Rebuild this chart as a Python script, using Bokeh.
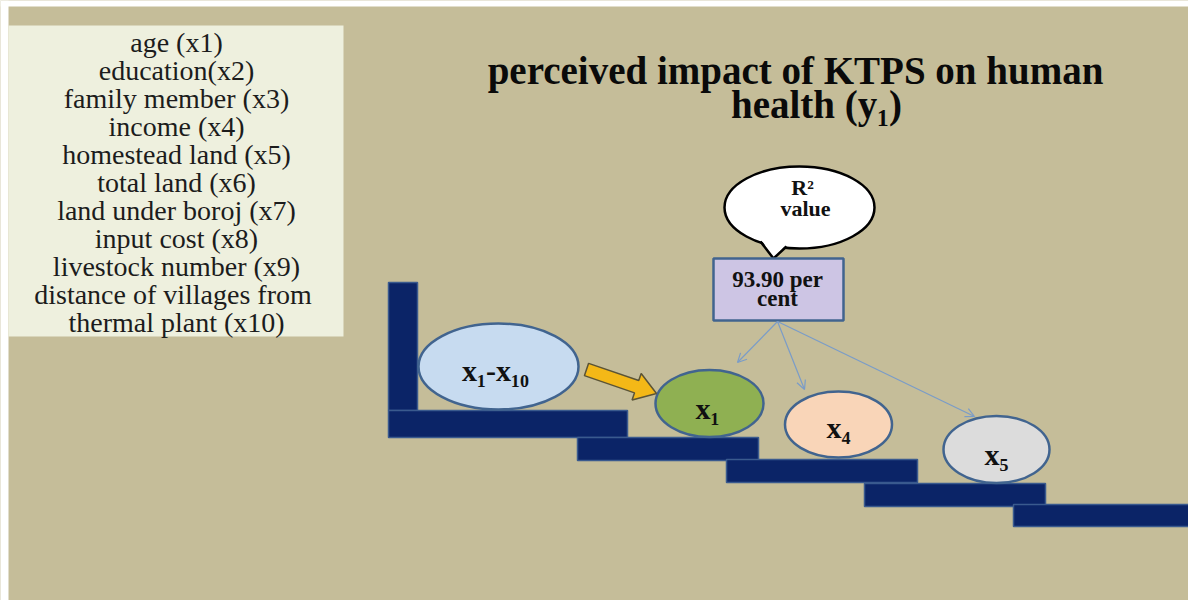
import math
from bokeh.plotting import figure
from bokeh.models import Range1d, Arrow, OpenHead
from bokeh.core.properties import value
from bokeh.embed import file_html
from bokeh.resources import INLINE

# ---------------- content ----------------
factors = ["age (x1)", "education(x2)", "family member (x3)", "income (x4)",
           "homestead land (x5)", "total land (x6)", "land under boroj (x7)",
           "input cost (x8)", "livestock number (x9)",
           "distance of villages  from", "thermal plant (x10)"]
title_lines = ["perceived impact of KTPS on human", "health (y\u2081)"]
bubble_lines = ["R\u00b2", "value"]
r2_lines = ["93.90 per", "cent"]
node_labels = ["x\u2081-x\u2081\u2080", "x\u2081", "x\u2084", "x\u2085"]

# ---------------- layout (page pixels) ----------------
node_x = [498, 709, 838, 996]
node_y = [366, 403, 424, 449]
node_w = [160, 108, 107, 106]
node_h = [86, 67, 66, 67]
node_fill = ["#c7dbf0", "#8fb052", "#f9d5b8", "#dcdcdc"]
label_x = [495, 707, 838, 996]
label_y = [370, 408, 427, 454]

stair_l = [388, 388, 577, 726, 864, 1013]
stair_r = [417, 627, 758, 917, 1045, 1200]
stair_t = [282, 410, 437, 459, 483, 504]
stair_b = [410, 437, 460, 482, 506, 526]

SERIF = value("Liberation Serif")
BG = "#c5bd99"
NAVY = "#0b2467"
EDGE = "#41648f"

p = figure(width=1188, height=600, output_backend="svg", toolbar_location=None,
           x_range=Range1d(0, 1188), y_range=Range1d(600, 0),
           min_border=0, background_fill_color=BG, border_fill_color=BG,
           outline_line_color=None)
p.axis.visible = False
p.grid.visible = False

# white page border (top / left)
p.quad(left=[0, 0], right=[8, 1200], top=[0, 0], bottom=[610, 6],
       fill_color="white", line_color=None)

# legend box of factors
p.quad(left=[8], right=[343], top=[25], bottom=[336], fill_color="#eef0de", line_color=None)
p.text(x=[176] * len(factors), y=[42 + 28 * i for i in range(len(factors))], text=factors,
       text_align="center", text_baseline="alphabetic", text_font=SERIF,
       text_font_size="28px", text_color="#1c1c1c")

# title
p.text(x=[795, 816], y=[70, 104], text=title_lines, text_align="center",
       text_baseline="alphabetic", text_font=SERIF, text_font_size="39px",
       text_font_style="bold", text_color="#0a0a0a")

# stairs
p.quad(left=stair_l, right=stair_r, top=stair_t, bottom=stair_b,
       fill_color=NAVY, line_color="#3a5a8e", line_width=1.5)

# speech bubble
p.ellipse(x=[799], y=[207], width=[150], height=[82], fill_color="white",
          line_color="black", line_width=2.5)
p.patch(x=[760, 786, 773], y=[238, 244, 258], fill_color="white", line_color=None)
p.line(x=[760, 773, 786], y=[241, 258, 246], line_color="black", line_width=2.5)
p.text(x=[802, 805], y=[187, 208], text=bubble_lines, text_align="center",
       text_baseline="alphabetic", text_font=SERIF, text_font_size="22px",
       text_font_style="bold", text_color="#111111")

# R2 box
p.quad(left=[713], right=[843], top=[258], bottom=[320], fill_color="#cdc5e4",
       line_color=EDGE, line_width=2.5)
p.text(x=[777, 777], y=[279, 298], text=r2_lines, text_align="center",
       text_baseline="alphabetic", text_font=SERIF, text_font_size="23px",
       text_font_style="bold", text_color="#111111")

# thin arrows from box to selected factors
for xe, ye in [(737, 362), (804, 389), (974, 416)]:
    p.add_layout(Arrow(end=OpenHead(size=9, line_color="#7a9cc8", line_width=1.2),
                       x_start=777, y_start=321, x_end=xe, y_end=ye,
                       line_color="#7a9cc8", line_width=1.2))

# nodes
p.ellipse(x=node_x, y=node_y, width=node_w, height=node_h, fill_color=node_fill,
          line_color=EDGE, line_width=2.5)
p.text(x=label_x, y=label_y, text=node_labels, text_align="center",
       text_baseline="alphabetic", text_font=SERIF, text_font_size="30px",
       text_font_style="bold", text_color="#111111")

# yellow block arrow
sx, sy, ex, ey = 586, 369, 656, 393
L = math.hypot(ex - sx, ey - sy)
ux, uy = (ex - sx) / L, (ey - sy) / L
nx, ny = -uy, ux
sw, hw, hl = 6.5, 14, 21
kx, ky = ex - ux * hl, ey - uy * hl
ax = [sx + nx * sw, kx + nx * sw, kx + nx * hw, ex, kx - nx * hw, kx - nx * sw, sx - nx * sw]
ay = [sy + ny * sw, ky + ny * sw, ky + ny * hw, ey, ky - ny * hw, ky - ny * sw, sy - ny * sw]
p.patch(x=ax, y=ay, fill_color="#f4b817", line_color="#5b5436", line_width=1.5)

open("out.html", "w").write(file_html(p, INLINE))
